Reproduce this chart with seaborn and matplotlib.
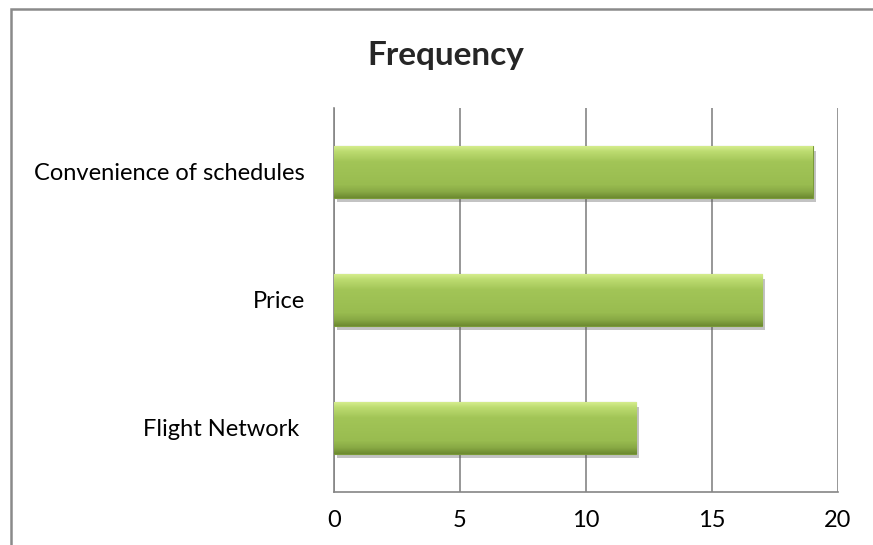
import numpy as np
import matplotlib
matplotlib.use("Agg")
import matplotlib.pyplot as plt
import matplotlib.patheffects as pe
from matplotlib.colors import LinearSegmentedColormap
from matplotlib.patches import Rectangle
import seaborn as sns

sns.set_style("white")
plt.rcParams['font.family'] = ['Lato', 'DejaVu Sans']

# data
categories = ["Convenience of schedules", "Price", "Flight Network "]
values = [19, 17, 12]
xticks = [0, 5, 10, 15, 20]

fig = plt.figure(figsize=(8.73, 5.45), dpi=100)
ax = fig.add_axes([334 / 873, 1 - 492 / 545, (838 - 334) / 873, (492 - 108) / 545])

sns.barplot(x=values, y=categories, orient='h', color='#9bbb59',
            width=0.4, ax=ax, zorder=3)

# excel-ish gradient fill on the bars
grad = LinearSegmentedColormap.from_list(
    'bar', [(0.0, '#d4ec8c'), (0.1, '#bcdb70'), (0.3, '#a2c557'),
            (0.75, '#99bc50'), (0.88, '#89aa45'), (1.0, '#6e8b31')])
g = np.linspace(0, 1, 64).reshape(-1, 1)
for p in ax.patches:
    x0, y0 = p.get_x(), p.get_y()
    w, h = p.get_width(), p.get_height()
    p.set_edgecolor('#7a9a38')
    p.set_linewidth(0.8)
    p.set_path_effects([pe.SimplePatchShadow(offset=(2, -3), shadow_rgbFace='#555555', alpha=0.35),
                        pe.Normal()])
    im = ax.imshow(g, cmap=grad, aspect='auto', extent=(x0, x0 + w, y0 + h, y0),
                   origin='upper', zorder=3.5, interpolation='bilinear')
    im.set_clip_path(p)

ax.set_xlim(0, 20)
ax.set_ylim(2.5, -0.5)
ax.set_xticks(xticks)
ax.set_xticklabels([str(t) for t in xticks])
ax.set_xlabel('')
ax.set_ylabel('')

ax.grid(axis='x', color='#858585', lw=1.2, zorder=0)
ax.grid(axis='y', visible=False)
for s in ['top', 'right']:
    ax.spines[s].set_visible(False)
for s in ['left', 'bottom']:
    ax.spines[s].set_color('#858585')
    ax.spines[s].set_linewidth(1.2)

ax.tick_params(axis='x', direction='out', length=6, width=1.2, color='#858585',
               labelsize=17, pad=7, labelcolor='black')
ax.tick_params(axis='y', which='major', length=0, labelsize=17, pad=21, labelcolor='black')
ax.set_yticks([-0.5, 0.5, 1.5, 2.5], minor=True)
ax.tick_params(axis='y', which='minor', direction='out', length=6, width=1.2, color='#858585')

fig.text(446 / 873, 1 - 55 / 545, 'Frequency', ha='center', va='center',
         fontsize=24, fontweight='bold')

# chart frame
fig.patches.append(Rectangle((11 / 873, -0.2), 2, 1.2 - 9 / 545,
                             transform=fig.transFigure, fill=False,
                             edgecolor='#8a8a8a', lw=1.8))

fig.savefig('out.png', dpi=100)
